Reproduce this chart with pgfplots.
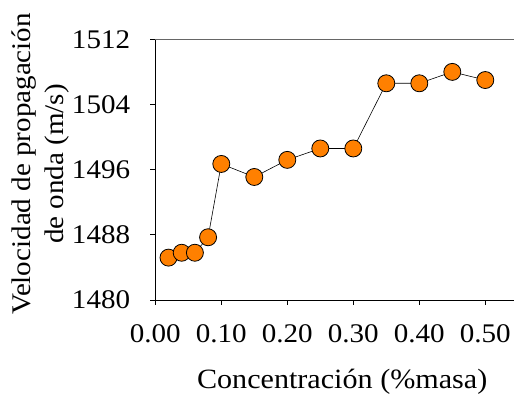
\documentclass[border=0pt]{standalone}
\usepackage{fontspec}
\setmainfont{Liberation Serif}[FakeStretch=1.08]
\usepackage{pgfplots}
\pgfplotsset{compat=1.18}
\definecolor{morange}{RGB}{255,128,0}
\begin{document}
\begin{tikzpicture}
\useasboundingbox (0,0) rectangle (514bp,405bp);
\begin{axis}[
  at={(155.3bp,105bp)}, anchor=south west,
  scale only axis,
  width=358.7bp, height=260.7bp,
  xmin=0, xmax=0.5435, ymin=1480, ymax=1512,
  axis x line*=bottom, axis y line*=left,
  axis line style={black, line width=0.8pt, -},
  xtick={0,0.1,0.2,0.3,0.4,0.5},
  xticklabels={0.00,0.10,0.20,0.30,0.40,0.50},
  ytick={1480,1488,1496,1504,1512},
  yticklabels={1480,1488,1496,1504,1512},
  tick align=outside, major tick length=5bp,
  tick style={black, line width=0.8pt},
  ticklabel style={font=\fontsize{27}{32}\selectfont, inner sep=0pt},
  xticklabel style={anchor=north, yshift=-19bp},
  yticklabel style={anchor=east, xshift=-20bp},
  xlabel={Concentración (\%masa)},
  xlabel style={font=\fontsize{28}{32}\selectfont, inner sep=0pt,
    at={(axis description cs:0.521,-0.341)}, anchor=base},
  ylabel={Velocidad de propagación\\de onda (m/s)},
  ylabel style={font=\fontsize{27}{33}\selectfont, align=center, inner sep=0pt,
    at={(axis description cs:-0.24,0.522)}, anchor=south},
  clip=false,
]
\draw[gray!80!black, line width=1pt] (rel axis cs:0,1) -- (rel axis cs:1,1);
\addplot[black, line width=0.6pt, mark=*, mark size=8.5bp,
  mark options={fill=morange, draw=black, line width=0.8pt}]
  coordinates {
  (0.02,1485.2) (0.04,1485.8) (0.06,1485.8) (0.08,1487.7)
  (0.10,1496.7) (0.15,1495.1) (0.20,1497.2) (0.25,1498.6)
  (0.30,1498.6) (0.35,1506.6) (0.40,1506.6) (0.45,1508.0)
  (0.50,1507.0)
  };
\end{axis}
\end{tikzpicture}
\end{document}
